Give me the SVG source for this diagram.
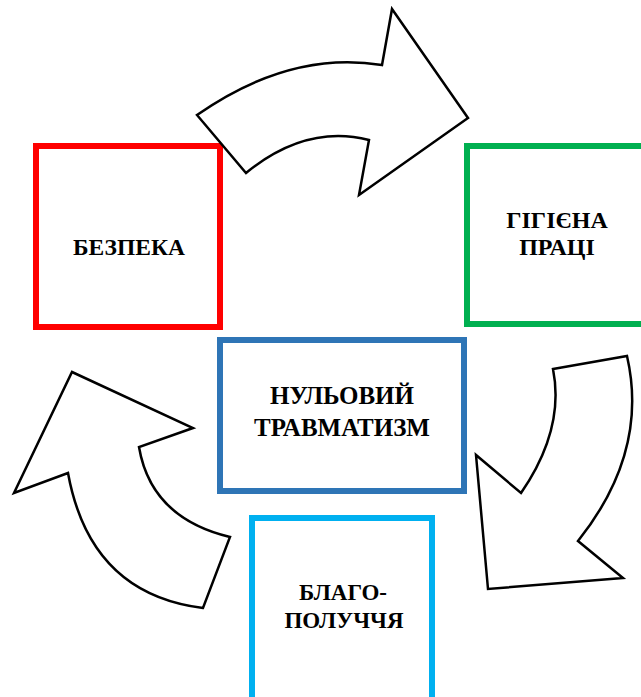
<svg xmlns="http://www.w3.org/2000/svg" width="641" height="697" viewBox="0 0 641 697">
<style>
.box{fill:#fff;stroke-width:6}
.lbl{font-family:"Liberation Serif","DejaVu Serif",serif;font-weight:bold;fill:#000;text-anchor:middle}
.arr{fill:#fff;stroke:#000;stroke-width:2.5;stroke-linejoin:miter}
</style>
<rect width="641" height="697" fill="#fff"/>
<g id="bezpeka">
<rect class="box" x="36" y="146" width="184" height="181" stroke="#ff0000"/>
<text class="lbl" x="129" y="255" font-size="23.5">БЕЗПЕКА</text>
</g>
<g id="hihiena">
<rect class="box" x="467" y="146" width="184" height="178" stroke="#00b050"/>
<text class="lbl" x="557" y="228" font-size="24">ГІГІЄНА</text>
<text class="lbl" x="557" y="255" font-size="24">ПРАЦІ</text>
</g>
<g id="nulovyi">
<rect class="box" x="220" y="340" width="244" height="151" stroke="#2e75b6"/>
<text class="lbl" x="342" y="404" font-size="25">НУЛЬОВИЙ</text>
<text class="lbl" x="342" y="436" font-size="25">ТРАВМАТИЗМ</text>
</g>
<g id="blagopoluchchia">
<rect class="box" x="252" y="518" width="180" height="190" stroke="#00b0f0"/>
<text class="lbl" x="343" y="600" font-size="23">БЛАГО-</text>
<text class="lbl" x="344" y="628" font-size="23">ПОЛУЧЧЯ</text>
</g>
<g id="connectors">
<path class="arr" d="M197,115 L246,173 Q306,124 369,140 L359,195 L468,118 L392,9 L382,65 Q290,50 197,115 Z"/>
<path class="arr" d="M553,369 L627,356 Q649,452 578,541 L623,578 L488,589 L476,455 L521,493 Q565,429 553,369 Z"/>
<path class="arr" d="M72,372 L193,428 L139,447 Q151,518 230,537 L203,608 Q90,594 68,473 L14,493 Z"/>
</g>
</svg>
